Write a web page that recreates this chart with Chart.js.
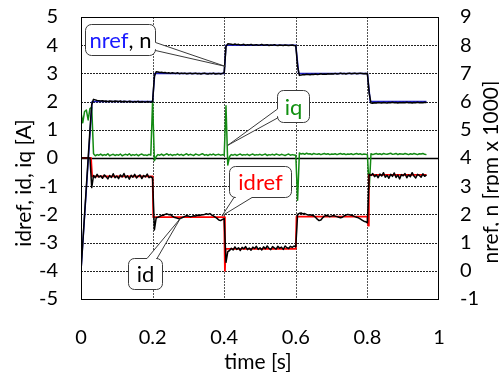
<!DOCTYPE html>
<html><head><meta charset="utf-8">
<script src="https://cdn.jsdelivr.net/npm/chart.js@4.4.1/dist/chart.umd.min.js"></script>
<style>html,body{margin:0;padding:0;background:#fff;overflow:hidden}canvas{display:block}</style>
</head><body>
<canvas id="c" width="499" height="372"></canvas>
<script>
// ---------- data ----------
const xTicks = [0, 0.2, 0.4, 0.6, 0.8, 1];
const leftTicks = [-5, -4, -3, -2, -1, 0, 1, 2, 3, 4, 5];
const rightTicks = [-1, 0, 1, 2, 3, 4, 5, 6, 7, 8, 9];

// sample times in ms (measured signals)
const timeMs = [
0,5,10,15,20,25,30,35,40,45,50,55,60,65,70,75,80,85,90,95,
100,105,110,115,120,125,130,135,140,145,150,155,160,165,170,175,180,185,190,195,
200,205,210,215,220,225,230,235,240,245,250,255,260,265,270,275,280,285,290,295,
300,305,310,315,320,325,330,335,340,345,350,355,360,365,370,375,380,385,390,395,
400,405,410,415,420,425,430,435,440,445,450,455,460,465,470,475,480,485,490,495,
500,505,510,515,520,525,530,535,540,545,550,555,560,565,570,575,580,585,590,595,
600,605,610,615,620,625,630,635,640,645,650,655,660,665,670,675,680,685,690,695,
700,705,710,715,720,725,730,735,740,745,750,755,760,765,770,775,780,785,790,795,
800,805,810,815,820,825,830,835,840,845,850,855,860,865,870,875,880,885,890,895,
900,905,910,915,920,925,930,935,940,945,950,955,960,965];

// n [rpm x 1000] (right axis)
const nSpeed = [
0,1.0,2.0,3.0,4.0,5.0,5.9,6.08,6.06,6.04,6.03,6.02,6.03,6.01,6.02,6.0,6.02,6.01,6.0,6.02,
6.01,6.0,6.02,5.99,6.01,6.0,5.99,6.01,6.0,5.98,6.0,5.99,6.01,5.98,6.0,5.99,5.98,6.0,5.99,5.98,
6.0,6.9,7.06,7.05,7.03,7.04,7.02,7.03,7.01,7.02,7.0,7.02,7.01,7.0,7.02,6.99,7.01,7.0,7.01,6.99,
7.0,7.01,6.99,7.0,7.01,6.99,7.0,6.98,7.0,7.01,6.99,6.98,7.0,6.99,7.01,6.98,6.99,7.0,6.98,7.0,
7.02,7.95,8.05,8.04,8.03,8.02,8.04,8.02,8.03,8.01,8.02,8.03,8.0,8.02,8.01,8.03,8.0,8.01,8.02,8.0,
8.01,8.03,8.0,8.01,8.02,7.99,8.01,8.0,8.02,8.0,7.99,8.01,8.0,7.99,8.01,8.0,7.99,8.0,8.01,7.99,
7.98,7.25,6.93,6.94,6.96,6.95,6.97,6.96,6.95,6.97,6.96,6.98,6.96,6.97,6.99,6.97,6.98,6.97,6.99,6.98,
6.99,6.98,7.0,6.98,6.99,7.01,6.99,7.0,6.98,7.0,7.01,6.99,7.0,7.01,6.99,7.0,7.01,7.0,6.99,7.0,
6.99,6.3,5.95,5.94,5.96,5.95,5.97,5.96,5.95,5.97,5.96,5.95,5.97,5.96,5.98,5.96,5.97,5.95,5.97,5.96,
5.97,5.96,5.98,5.96,5.97,5.95,5.97,5.96,5.98,5.96,5.97,5.96,5.98,5.97];

// iq [A] (left axis)
const iqCurrent = [
1.6,1.25,1.65,1.7,1.35,1.75,1.8,0.15,0.08,0.12,0.1,0.14,0.09,0.12,0.1,0.15,0.08,0.11,0.13,0.09,
0.12,0.1,0.14,0.08,0.11,0.13,0.1,0.15,0.09,0.12,0.1,0.13,0.08,0.12,0.14,0.1,0.11,0.09,0.13,0.1,
2.05,-0.1,0.05,0.12,0.1,0.14,0.09,0.12,0.15,0.1,0.13,0.09,0.12,0.11,0.14,0.1,0.13,0.09,0.12,0.15,
0.1,0.13,0.11,0.09,0.14,0.12,0.1,0.13,0.15,0.1,0.12,0.09,0.13,0.11,0.14,0.1,0.12,0.13,0.1,0.12,
0.1,1.85,-0.25,0.05,0.12,0.1,0.13,0.09,0.12,0.14,0.1,0.12,0.11,0.13,0.09,0.12,0.14,0.1,0.12,0.11,
0.13,0.1,0.12,0.14,0.09,0.12,0.11,0.13,0.1,0.14,0.12,0.1,0.13,0.11,0.09,0.12,0.14,0.1,0.12,0.11,
0.1,-1.5,0.18,0.14,0.16,0.13,0.17,0.14,0.15,0.12,0.16,0.14,0.13,0.15,0.12,0.14,0.16,0.13,0.15,0.12,
0.14,0.13,0.15,0.12,0.14,0.16,0.13,0.15,0.12,0.14,0.13,0.15,0.12,0.14,0.16,0.13,0.15,0.12,0.14,0.13,
0.12,-1.1,0.15,0.12,0.14,0.16,0.13,0.15,0.12,0.16,0.14,0.13,0.15,0.17,0.13,0.14,0.16,0.12,0.15,0.14,
0.13,0.16,0.14,0.12,0.15,0.13,0.16,0.14,0.12,0.15,0.14,0.16,0.13,0.12];

// id [A] (left axis)
const idCurrent = [
0,0,0,0,0,0,-1.05,-0.62,-0.7,-0.58,-0.68,-0.63,-0.72,-0.6,-0.66,-0.74,-0.62,-0.69,-0.56,-0.7,
-0.64,-0.73,-0.6,-0.67,-0.55,-0.7,-0.63,-0.75,-0.61,-0.68,-0.58,-0.71,-0.64,-0.6,-0.73,-0.62,-0.67,-0.57,-0.7,-0.66,
-0.72,-2.55,-2.12,-2.1,-2.07,-2.04,-2.03,-2.0,-1.98,-2.01,-2.0,-2.06,-2.1,-2.12,-2.14,-2.16,-2.13,-2.1,-2.07,-2.05,
-2.06,-2.08,-2.07,-2.05,-2.06,-2.03,-2.04,-2.02,-2.01,-2.0,-1.98,-2.0,-1.97,-2.02,-2.05,-2.1,-2.14,-2.2,-2.22,-2.18,
-2.15,-3.7,-3.32,-3.28,-3.2,-3.26,-3.15,-3.24,-3.18,-3.28,-3.17,-3.22,-3.14,-3.25,-3.19,-3.27,-3.16,-3.21,-3.13,-3.24,
-3.18,-3.26,-3.15,-3.22,-3.12,-3.2,-3.25,-3.14,-3.19,-3.23,-3.13,-3.2,-3.16,-3.24,-3.12,-3.18,-3.21,-3.13,-3.17,-3.12,
-3.15,-2.0,-1.96,-1.95,-1.98,-1.97,-2.0,-2.02,-2.01,-2.03,-2.05,-2.1,-2.17,-2.22,-2.2,-2.12,-2.06,-2.04,-2.05,-2.08,
-2.06,-2.04,-2.06,-2.08,-2.1,-2.12,-2.1,-2.05,-2.02,-2.0,-2.01,-2.03,-2.05,-2.08,-2.1,-2.12,-2.16,-2.2,-2.24,-2.26,
-2.3,-0.58,-0.62,-0.55,-0.66,-0.6,-0.7,-0.57,-0.64,-0.52,-0.68,-0.61,-0.72,-0.58,-0.65,-0.53,-0.69,-0.6,-0.74,-0.59,
-0.63,-0.55,-0.7,-0.6,-0.66,-0.52,-0.64,-0.71,-0.58,-0.62,-0.68,-0.56,-0.65,-0.6];

// references (piecewise)
const nrefTimeMs = [0, 31, 200, 206, 400, 405, 600, 608, 800, 808, 965];
const nrefValues = [0, 6, 6, 7, 7, 8, 8, 7, 7, 6, 6];
const idrefTimeMs = [0, 28, 31, 200, 202, 400, 402, 404, 600, 602, 800, 802, 804, 965];
const idrefValues = [0, 0, -0.65, -0.65, -2.1, -2.1, -4.0, -3.22, -3.22, -2.08, -2.08, -2.4, -0.6, -0.6];

// ---------- chart ----------
const FONT = 'Lato';
const pts = (ts, vs) => ts.map((t, i) => ({ x: t / 1000, y: vs[i] }));

function callout(ctx, b) {
  const { x, y, w, h, r, side, b1, b2, tx, ty } = b;
  ctx.beginPath();
  ctx.moveTo(x + r, y);
  if (side === 'top') { ctx.lineTo(b1, y); ctx.lineTo(tx, ty); ctx.lineTo(b2, y); }
  ctx.lineTo(x + w - r, y); ctx.arcTo(x + w, y, x + w, y + r, r);
  if (side === 'right') { ctx.lineTo(x + w, b1); ctx.lineTo(tx, ty); ctx.lineTo(x + w, b2); }
  ctx.lineTo(x + w, y + h - r); ctx.arcTo(x + w, y + h, x + w - r, y + h, r);
  if (side === 'bottom') { ctx.lineTo(b2, y + h); ctx.lineTo(tx, ty); ctx.lineTo(b1, y + h); }
  ctx.lineTo(x + r, y + h); ctx.arcTo(x, y + h, x, y + h - r, r);
  if (side === 'left') { ctx.lineTo(x, b2); ctx.lineTo(tx, ty); ctx.lineTo(x, b1); }
  ctx.lineTo(x, y + r); ctx.arcTo(x, y, x + r, y, r);
  ctx.closePath();
  ctx.fillStyle = '#fff'; ctx.fill();
  ctx.strokeStyle = '#3a3a3a'; ctx.lineWidth = 1; ctx.stroke();
}

function drawParts(ctx, parts, cx, cy) {
  let total = 0;
  parts.forEach(p => total += ctx.measureText(p[0]).width);
  let xx = cx - total / 2;
  parts.forEach(p => { ctx.fillStyle = p[1]; ctx.fillText(p[0], xx, cy); xx += ctx.measureText(p[0]).width; });
}

const decor = {
  id: 'decor',
  beforeDatasetsDraw(chart) {
    const { ctx, chartArea: a, scales } = chart;
    const x = scales.x, yL = scales.yL;
    ctx.save();
    ctx.lineWidth = 1;
    ctx.setLineDash([2, 1]);
    ctx.strokeStyle = '#555';
    xTicks.forEach(v => {
      if (v <= 0 || v >= 1) return;
      const px = Math.round(x.getPixelForValue(v)) + 0.5;
      ctx.beginPath(); ctx.moveTo(px, a.top); ctx.lineTo(px, a.bottom); ctx.stroke();
    });
    ctx.strokeStyle = '#222';
    leftTicks.forEach(v => {
      if (v === 0 || v <= -5 || v >= 5) return;
      const py = Math.round(yL.getPixelForValue(v)) + 0.5;
      ctx.beginPath(); ctx.moveTo(a.left, py); ctx.lineTo(a.right, py); ctx.stroke();
    });
    ctx.setLineDash([]);
    ctx.strokeStyle = '#000';
    ctx.lineWidth = 1.5;
    const z = Math.round(yL.getPixelForValue(0)) + 0.5;
    ctx.beginPath(); ctx.moveTo(a.left, z); ctx.lineTo(a.right, z); ctx.stroke();
    ctx.restore();
  },
  afterDatasetsDraw(chart) {
    const { ctx, chartArea: a, scales } = chart;
    const x = scales.x, yL = scales.yL, yR = scales.yR;
    ctx.save();
    ctx.strokeStyle = '#000'; ctx.lineWidth = 1;
    ctx.strokeRect(Math.round(a.left) + 0.5, Math.round(a.top) + 0.5, Math.round(a.right - a.left) - 1, Math.round(a.bottom - a.top));
    const boxes = [
      { x: 85.5, y: 24.5, w: 70, h: 31, r: 6, side: 'right', b1: 42.5, b2: 50.5,
        tx: x.getPixelForValue(0.403), ty: yR.getPixelForValue(7.25),
        parts: [['nref', '#1a1aff'], [', n', '#000']] },
      { x: 277.5, y: 90.5, w: 32, h: 32, r: 6, side: 'left', b1: 109, b2: 118,
        tx: x.getPixelForValue(0.41), ty: yL.getPixelForValue(0.45),
        parts: [['iq', '#109010']] },
      { x: 229.5, y: 166.5, w: 62, h: 31, r: 6, side: 'bottom', b1: 234, b2: 252,
        tx: x.getPixelForValue(0.394), ty: yL.getPixelForValue(-2.05),
        parts: [['idref', '#ff0000']] },
      { x: 128.5, y: 258.5, w: 34, h: 31, r: 6, side: 'top', b1: 147, b2: 157,
        tx: x.getPixelForValue(0.277), ty: yL.getPixelForValue(-2.15),
        parts: [['id', '#000']] }
    ];
    ctx.font = '22px ' + FONT;
    ctx.textBaseline = 'middle';
    boxes.forEach(b => {
      callout(ctx, b);
      drawParts(ctx, b.parts, b.x + b.w / 2, b.y + b.h / 2 + 1);
    });
    ctx.restore();
  },
  afterDraw(chart) {
    const ctx = chart.ctx;
    ctx.save();
    ctx.fillStyle = '#000';
    ctx.font = '21px ' + FONT;
    ctx.textAlign = 'center';
    ctx.textBaseline = 'middle';
    ctx.fillText('time [s]', 258, 362);
    ctx.save(); ctx.translate(24, 183); ctx.rotate(-Math.PI / 2);
    ctx.fillText('idref, id, iq [A]', 0, 0); ctx.restore();
    ctx.save(); ctx.translate(491, 172); ctx.rotate(-Math.PI / 2);
    ctx.fillText('nref, n [rpm x 1000]', 0, 0); ctx.restore();
    ctx.restore();
  }
};

const tickFont = { family: FONT, size: 20 };
const zeroPad = s => { s.paddingTop = 0; s.paddingBottom = 0; s.paddingLeft = 0; s.paddingRight = 0; };
new Chart(document.getElementById('c'), {
  type: 'line',
  data: {
    datasets: [
      { label: 'n', data: pts(timeMs, nSpeed), yAxisID: 'yR', borderColor: '#000', borderWidth: 1.5 },
      { label: 'id', data: pts(timeMs, idCurrent), yAxisID: 'yL', borderColor: '#000', borderWidth: 1.5 },
      { label: 'nref', data: pts(nrefTimeMs, nrefValues), yAxisID: 'yR', borderColor: '#2020c8', borderWidth: 1.5 },
      { label: 'idref', data: pts(idrefTimeMs, idrefValues), yAxisID: 'yL', borderColor: '#ff0000', borderWidth: 1.8 },
      { label: 'iq', data: pts(timeMs, iqCurrent), yAxisID: 'yL', borderColor: '#138a13', borderWidth: 1.5 }
    ]
  },
  options: {
    responsive: false,
    animation: false,
    events: [],
    elements: { point: { radius: 0 }, line: { tension: 0, borderJoinStyle: 'round' } },
    layout: { padding: { top: 17, left: 0, right: 0, bottom: 0 } },
    plugins: { legend: { display: false }, tooltip: { enabled: false } },
    scales: {
      x: {
        type: 'linear', min: 0, max: 1,
        afterBuildTicks: s => { s.ticks = xTicks.map(v => ({ value: v })); },
        ticks: { font: tickFont, color: '#000', padding: 27, maxRotation: 0, autoSkip: false,
          callback: v => String(Math.round(v * 10) / 10) },
        grid: { display: false, drawTicks: false }, border: { display: false },
        afterFit: s => { s.height = 73; zeroPad(s); }
      },
      yL: {
        type: 'linear', position: 'left', min: -5, max: 5,
        afterBuildTicks: s => { s.ticks = leftTicks.map(v => ({ value: v })); },
        ticks: { font: tickFont, color: '#000', padding: 23, autoSkip: false, callback: v => String(v) },
        grid: { display: false, drawTicks: false }, border: { display: false },
        afterFit: s => { s.width = 81; zeroPad(s); }
      },
      yR: {
        type: 'linear', position: 'right', min: -1, max: 9,
        afterBuildTicks: s => { s.ticks = rightTicks.map(v => ({ value: v })); },
        ticks: { font: tickFont, color: '#000', padding: 21, autoSkip: false, callback: v => String(v) },
        grid: { display: false, drawTicks: false }, border: { display: false },
        afterFit: s => { s.width = 60; zeroPad(s); }
      }
    }
  },
  plugins: [decor]
});
</script>
</body></html>
